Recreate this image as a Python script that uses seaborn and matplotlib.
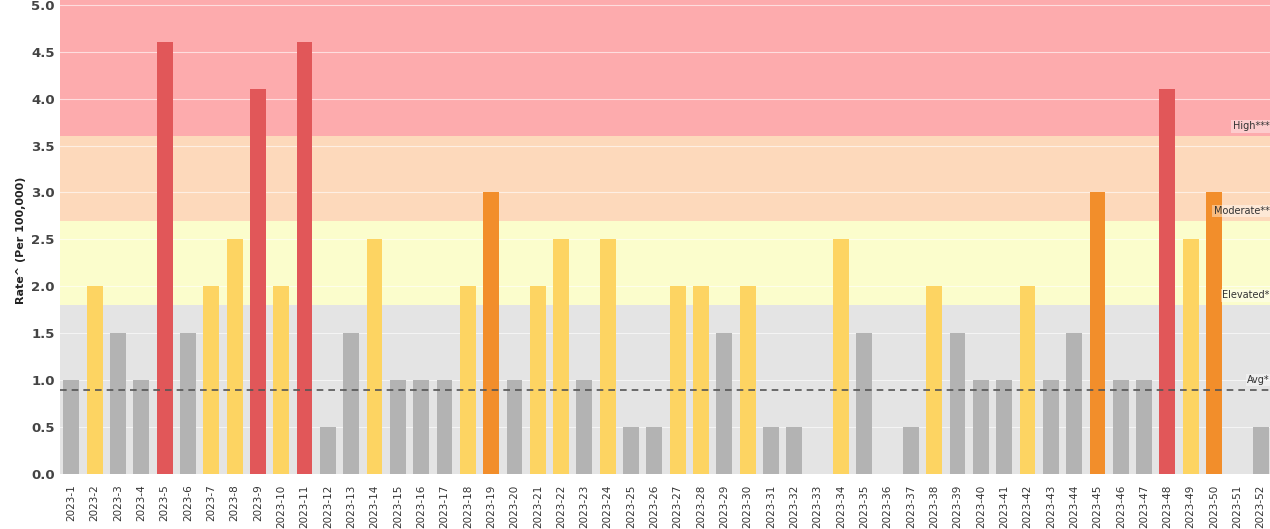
import pandas as pd
import numpy as np
import matplotlib
matplotlib.use("Agg")
import matplotlib.pyplot as plt
import seaborn as sns

# weekly rates
weeks = ["2023-%d" % i for i in range(1, 53)]
rates = [1.0, 2.0, 1.5, 1.0, 4.6, 1.5, 2.0, 2.5, 4.1, 2.0,
         4.6, 0.5, 1.5, 2.5, 1.0, 1.0, 1.0, 2.0, 3.0, 1.0,
         2.0, 2.5, 1.0, 2.5, 0.5, 0.5, 2.0, 2.0, 1.5, 2.0,
         0.5, 0.5, 0.0, 2.5, 1.5, 0.0, 0.5, 2.0, 1.5, 1.0,
         1.0, 2.0, 1.0, 1.5, 3.0, 1.0, 1.0, 4.1, 2.5, 3.0,
         0.0, 0.5]

# threshold bands
levels = ["Normal", "Elevated*", "Moderate**", "High***"]
thresholds = [0.0, 1.8, 2.7, 3.6, 5.1]
avg_rate = 0.9

band_colors = ["#e4e4e4", "#fbfdcc", "#fdd9bb", "#fdabad"]
bar_colors = ["#b3b3b3", "#fdd462", "#f28e2b", "#e15759"]

df = pd.DataFrame({"week": weeks, "rate": rates})
df["level"] = pd.cut(df["rate"], bins=thresholds, labels=levels, right=False)

fig = plt.figure(figsize=(12.7, 5.29), dpi=100)
ax = fig.add_axes([0.047, 0.093, 0.953, 0.907])

for i in range(4):
    ax.axhspan(thresholds[i], thresholds[i + 1], color=band_colors[i], zorder=0, lw=0)

for y in np.arange(0.5, 5.01, 0.5):
    ax.axhline(y, color="white", lw=0.8, alpha=0.6, zorder=1)

sns.barplot(data=df, x="week", y="rate", hue="level", hue_order=levels,
            palette=dict(zip(levels, bar_colors)), dodge=False, width=0.68,
            saturation=1, legend=False, ax=ax, zorder=2)

ax.axhline(avg_rate, color="#555555", lw=1.2, ls=(0, (4, 3)), zorder=3)

ax.set_xlim(-0.5, 51.4)
ax.set_ylim(-0.06, 5.05)
ax.set_yticks(np.arange(0, 5.01, 0.5))
ax.set_yticklabels(["%.1f" % v for v in np.arange(0, 5.01, 0.5)],
                   fontsize=9.5, color="#444444", fontweight="bold")
ax.tick_params(axis="x", rotation=90, labelsize=7.5, colors="#333333", length=0)
ax.tick_params(axis="y", length=0)
ax.set_xlabel("")
ax.set_ylabel("Rate^ (Per 100,000)", fontsize=8, fontweight="bold", color="#222222")
for s in ax.spines.values():
    s.set_visible(False)

box = dict(facecolor="white", alpha=0.4, edgecolor="none", pad=1)
for lab, y in [("High***", 3.6), ("Moderate**", 2.7), ("Elevated*", 1.8), ("Avg*", avg_rate)]:
    ax.text(51.38, y + 0.05, lab, ha="right", va="bottom", fontsize=7,
            color="#333333", bbox=box, zorder=4)

fig.savefig("out.png", dpi=100)
